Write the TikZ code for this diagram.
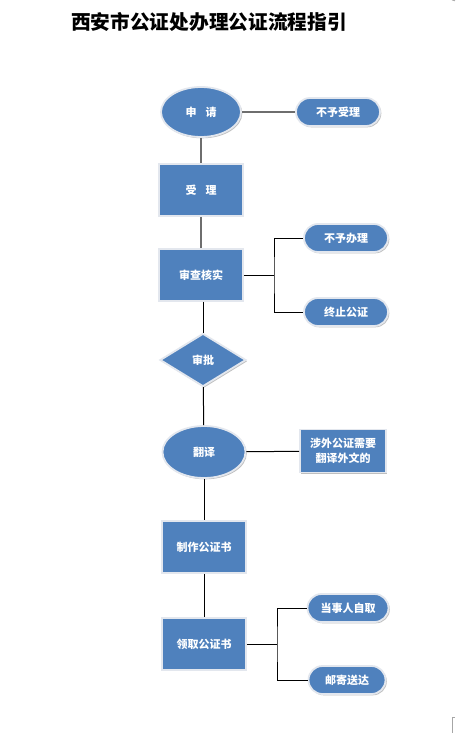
\documentclass[tikz,border=0pt]{standalone}
\usepackage{fontspec}
\newfontfamily\cjk{Noto Sans CJK SC}
\usetikzlibrary{shapes.geometric,shapes.misc,shadows}
\definecolor{nblue}{HTML}{4F81BD}
\definecolor{nborder}{HTML}{E3E7EE}
\definecolor{lgray}{HTML}{6E6E6E}
\begin{document}
\begin{tikzpicture}[x=1pt,y=-1pt,
  base/.style={fill=nblue, draw=nborder, line width=1.8pt, text=white,
    font=\cjk\bfseries\fontsize{11}{14.5}\selectfont, inner sep=0pt, align=center,
    drop shadow={shadow xshift=1.3pt, shadow yshift=-1.3pt, fill=black!45, opacity=0.55}},
  oval/.style={base, ellipse, minimum width=#1, minimum height=50pt},
  box/.style={base, rectangle, minimum width=84pt, minimum height=52pt},
  pill/.style={base, rounded rectangle, minimum width=#1, minimum height=28pt},
  dia/.style={base, diamond, minimum width=86pt, minimum height=53pt},
  glink/.style={draw=lgray, line width=1.4pt},
  link/.style={draw=black, line width=1pt}]
\useasboundingbox (0,0) rectangle (455,733);
\fill[white] (0,0) rectangle (455,733);
% title
\node (title) at (209,22) {\cjk\bfseries\fontsize{19.7}{22}\selectfont 西安市公证处办理公证流程指引};
% main column
\node[oval=80pt] (sq) at (201,112) {申\hspace{9pt}请};
\node[pill=84pt] (bysl) at (338,112) {不予受理};
\node[box] (sl) at (201,190) {受\hspace{9pt}理};
\node[box] (sc) at (201,275) {审查核实};
\node[pill=84pt] (bybl) at (346,238) {不予办理};
\node[pill=84pt] (zzgz) at (346,312) {终止公证};
\node[dia] (sp) at (203,360) {审批};
\node[oval=83pt, minimum height=52pt] (fy) at (204,452) {翻译};
\node[base, rectangle, minimum width=86pt, minimum height=43pt] (sw) at (343,451) {涉外公证需要\\翻译外文的};
\node[box] (zz) at (204,547) {制作公证书};
\node[box] (lq) at (204,644) {领取公证书};
\node[pill=81pt] (dsr) at (348,608) {当事人自取};
\node[pill=77pt] (yj) at (347,680) {邮寄送达};
% junctions
\coordinate (j1) at (274,275);
\coordinate (j2) at (277,644);
% connectors
\draw[glink] (sq) -- (bysl);
\draw[glink] (sq) -- (sl);
\draw[glink] (sl) -- (sc);
\draw[link] (sc.east) -- (j1);
\draw[link] (bybl.west) -| (j1) |- (zzgz.west);
\draw[link] (sc.south -| sp.north) -- (sp.north);
\draw[link] (sp) -- (fy);
\draw[link] (fy) -- (sw);
\draw[link] (fy) -- (zz);
\draw[link] (zz) -- (lq);
\draw[link] (lq.east) -- (j2);
\draw[link] (dsr.west) -| (j2) |- (yj.west);
% page corner marks
\draw[gray!70, line width=0.8pt] (455,717) -- (452,717) -- (452,733);
\draw[gray!70, line width=0.8pt] (452,0) -- (455,0.8);
\end{tikzpicture}
\end{document}
